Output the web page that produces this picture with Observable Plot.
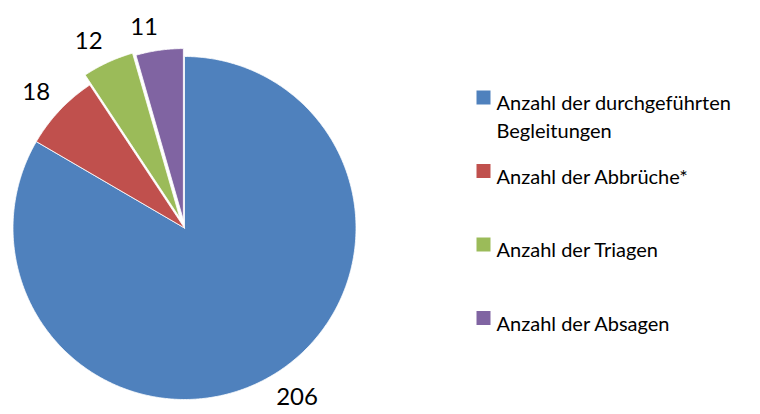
<!DOCTYPE html>
<html>
<head>
<meta charset="utf-8">
<script src="https://cdn.jsdelivr.net/npm/d3@7"></script>
<script src="https://cdn.jsdelivr.net/npm/@observablehq/plot@0.6"></script>
<style>
  html, body { margin: 0; padding: 0; background: #fff; }
  #chart { width: 760px; height: 414px; }
</style>
</head>
<body>
<div id="chart"></div>
<script>
// ---- data ----
const categories = [
  "Anzahl der durchgeführten Begleitungen",
  "Anzahl der Abbrüche*",
  "Anzahl der Triagen",
  "Anzahl der Absagen"
];
const values = [206, 18, 12, 11];
const colors = ["#4F81BD", "#C0504D", "#9BBB59", "#8064A2"];

// ---- layout (pixel space) ----
const W = 760, H = 414;
const cx = 184, cy = 227.5, R = 171.5;
const explode = [0, 0, 11, 8];      // per-slice explosion distance
const labelGap = 14;
const labelFont = 24;
const legendX = 483, legendTextX = 496, legendTop = 90, legendStep = 73.5;

const data = categories.map((c, i) => ({category: c, value: values[i]}));
const arcs = d3.pie().sort(null).value(d => d.value)(data);

// slice polygons
const slicePts = [];
const labels = [];
arcs.forEach((a, i) => {
  const mid = (a.startAngle + a.endAngle) / 2;
  const ox = cx + explode[i] * Math.sin(mid);
  const oy = cy - explode[i] * Math.cos(mid);
  const key = a.data.category;
  slicePts.push({key, x: ox, y: oy});
  const n = Math.max(2, Math.ceil((a.endAngle - a.startAngle) / (Math.PI / 360)));
  for (let k = 0; k <= n; k++) {
    const t = a.startAngle + (a.endAngle - a.startAngle) * k / n;
    slicePts.push({key, x: ox + R * Math.sin(t), y: oy - R * Math.cos(t)});
  }
  slicePts.push({key, x: ox, y: oy});
  // label: nearest corner of text box on the bisector, just outside the arc
  const sx = Math.sin(mid), sy = -Math.cos(mid);
  const px = ox + (R + labelGap) * sx;
  const py = oy + (R + labelGap) * sy;
  const txt = String(a.data.value);
  const w = txt.length * 0.56 * labelFont;
  const h = 0.72 * labelFont;
  labels.push({
    text: txt,
    x: px + Math.sign(sx) * w / 2,
    y: py + Math.sign(sy) * h / 2
  });
});

const legend = categories.map((c, i) => ({category: c, i}));

const plot = Plot.plot({
  width: W,
  height: H,
  margin: 0,
  x: {domain: [0, W], range: [0, W], axis: null},
  y: {domain: [0, H], range: [0, H], axis: null},
  color: {domain: categories, range: colors},
  style: {fontFamily: "Lato, 'Open Sans', sans-serif", background: "white", color: "black"},
  marks: [
    Plot.line(slicePts, {
      x: "x", y: "y", z: "key", fill: "key",
      stroke: "white", strokeWidth: 0.8, strokeLinejoin: "round", curve: "linear"
    }),
    Plot.text(labels, {
      x: "x", y: "y", text: "text",
      fontSize: labelFont, textAnchor: "middle", lineAnchor: "middle", fill: "black"
    }),
    Plot.dot(legend, {
      x: () => legendX,
      y: d => legendTop + d.i * legendStep + 7,
      fill: "category", symbol: "square", r: 7.9, stroke: null
    }),
    Plot.text(legend, {
      x: () => legendTextX,
      y: d => legendTop + d.i * legendStep,
      text: "category",
      textAnchor: "start", lineAnchor: "top", lineWidth: 13, lineHeight: 1.4,
      fontSize: 20, fill: "black"
    })
  ]
});
document.getElementById("chart").appendChild(plot);
</script>
</body>
</html>
